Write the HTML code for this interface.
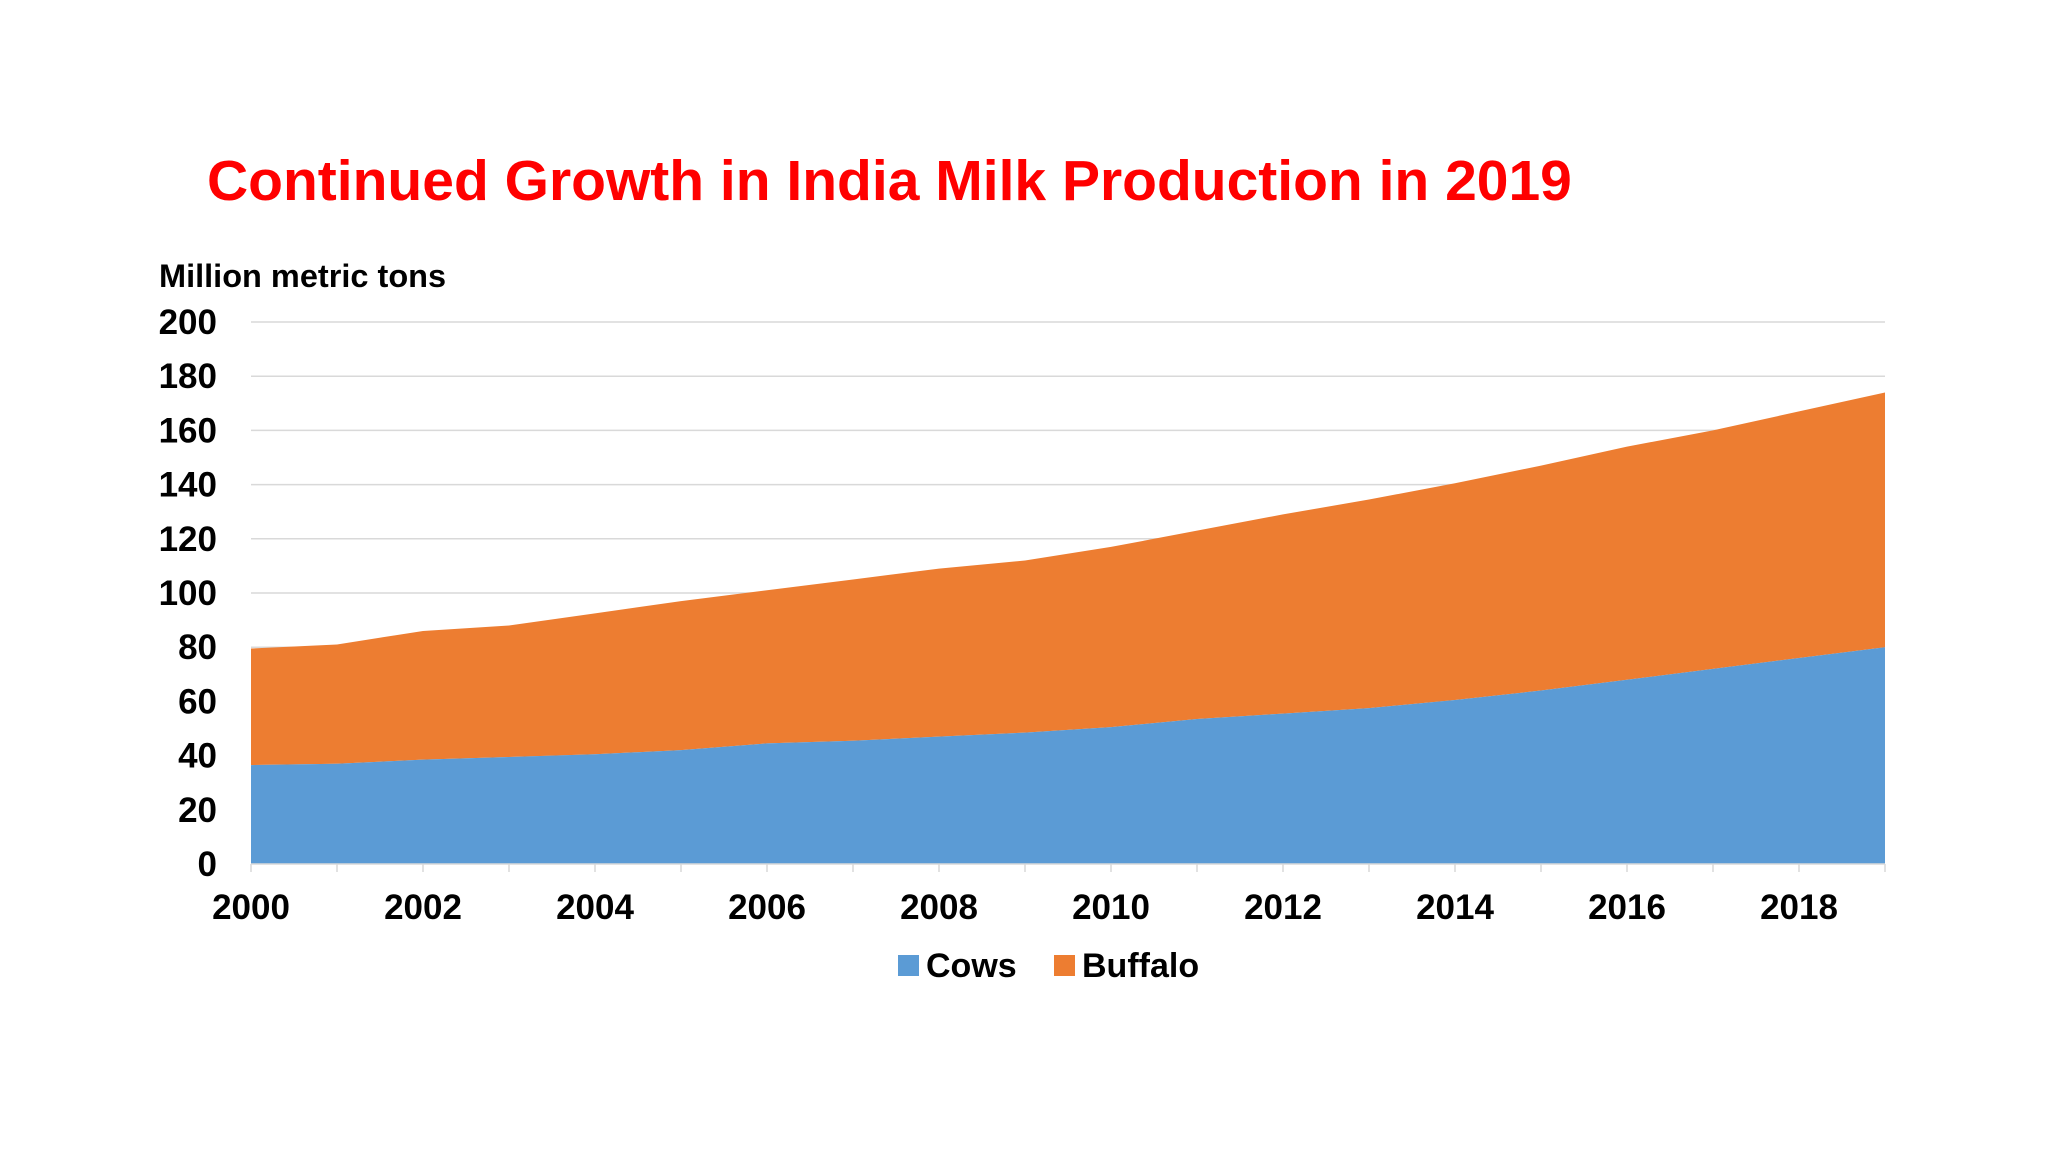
<!DOCTYPE html>
<html><head><meta charset="utf-8"><style>
html,body{margin:0;padding:0;background:#fff;}
svg{display:block;font-family:"Liberation Sans",Arial,sans-serif;}
</style></head><body>
<svg id="chart" width="2048" height="1152" viewBox="0 0 2048 1152">
<text x="207" y="200" font-size="57" font-weight="bold" fill="#ff0000">Continued Growth in India Milk Production in 2019</text>
<text x="159" y="287" font-size="32.5" font-weight="bold" fill="#000">Million metric tons</text>
<g id="grid"></g><g id="areas"></g><g id="axes"></g>
<g>
<rect x="898" y="955" width="21" height="21" fill="#5b9bd5"/>
<text x="926" y="977" font-size="34" font-weight="bold">Cows</text>
<rect x="1054" y="955" width="21" height="21" fill="#ed7d31"/>
<text x="1082" y="977" font-size="34" font-weight="bold">Buffalo</text>
</g>
</svg>
<script>
const years=[2000,2001,2002,2003,2004,2005,2006,2007,2008,2009,2010,2011,2012,2013,2014,2015,2016,2017,2018,2019];
const cows=[36.5,37,38.5,39.5,40.5,42,44.5,45.5,47,48.5,50.5,53.5,55.5,57.5,60.5,64,68,72,76,80];
const buffalo=[43,44,47.5,48.5,52,55,56.5,59.5,62,63.5,66.5,69.5,73.5,77,80,83,86,88,91,94];
const yTicks=[0,20,40,60,80,100,120,140,160,180,200];
const xLabels=[2000,2002,2004,2006,2008,2010,2012,2014,2016,2018];
const NS="http://www.w3.org/2000/svg";
const X0=251,X1=1885,Y0=864,Y1=322;
const xs=y=>X0+(y-years[0])/(years[years.length-1]-years[0])*(X1-X0);
const ys=v=>Y0-v/200*(Y0-Y1);
function mk(t,a,p){const e=document.createElementNS(NS,t);for(const k in a)e.setAttribute(k,a[k]);p.appendChild(e);return e;}
const grid=document.getElementById('grid'),areas=document.getElementById('areas'),axes=document.getElementById('axes');
yTicks.forEach(v=>{
 if(v>0){const l=mk('line',{x1:X0,x2:X1,y1:ys(v),y2:ys(v),stroke:'#d9d9d9','stroke-width':1.5},grid);
 
 }
 const t=mk('text',{x:217,y:ys(v)+12,'font-size':35,'font-weight':'bold','text-anchor':'end'},axes);
 t.textContent=v;
 
 
});
const tot=cows.map((c,i)=>c+buffalo[i]);
let pb='M'+xs(years[0])+','+ys(0);
years.forEach((y,i)=>pb+=' L'+xs(y)+','+ys(cows[i]));
pb+=' L'+xs(years[years.length-1])+','+ys(0)+'Z';
let pt='';
years.forEach((y,i)=>pt+=(i?' L':'M')+xs(y)+','+ys(tot[i]));
for(let i=years.length-1;i>=0;i--)pt+=' L'+xs(years[i])+','+ys(cows[i]);
pt+='Z';
const a1=mk('path',{d:pt,fill:'#ed7d31'},areas);


const a2=mk('path',{d:pb,fill:'#5b9bd5'},areas);


const ax=mk('line',{x1:X0,x2:X1,y1:Y0,y2:Y0,stroke:'#d9d9d9','stroke-width':1.5},axes);


years.forEach(y=>{
 const tk=mk('line',{x1:xs(y),x2:xs(y),y1:Y0,y2:Y0+8,stroke:'#d9d9d9','stroke-width':1.5},axes);
 
 
});
xLabels.forEach(y=>{
 const t=mk('text',{x:xs(y),y:919,'font-size':35,'font-weight':'bold','text-anchor':'middle'},axes);
 t.textContent=y;
 
 
});
</script>
</body></html>
